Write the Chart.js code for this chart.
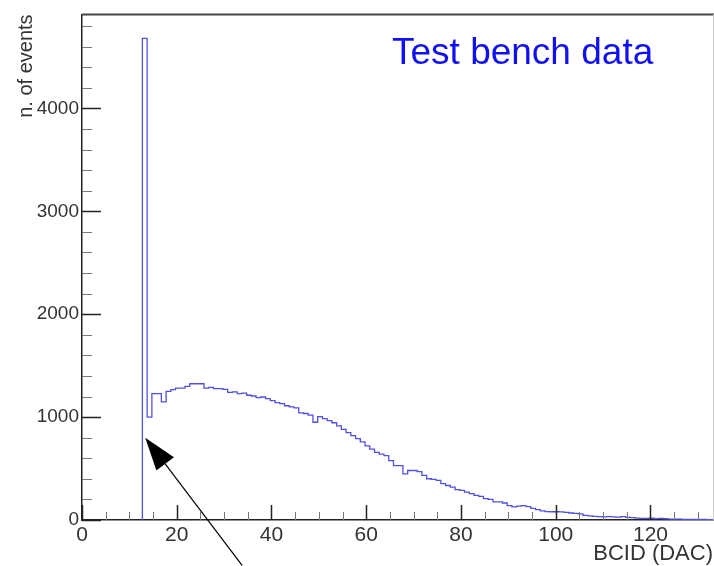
<!DOCTYPE html>
<html>
<head>
<meta charset="utf-8">
<script src="https://cdn.jsdelivr.net/npm/chart.js@4.4.1/dist/chart.umd.min.js"></script>
<style>
  html, body { margin: 0; padding: 0; background: #fff; }
</style>
</head>
<body>
<canvas id="bcidChart" width="714" height="566"></canvas>
<script>
// histogram: lower edge of first bin, bin width, counts per bin
const binStart = 12.75;
const binWidth = 1;
const binCounts = [
    4680, 1000, 1228, 1228, 1147, 1250, 1266, 1282, 1282, 1298,
    1324, 1324, 1324, 1282, 1288, 1276, 1276, 1270, 1240, 1245,
    1228, 1232, 1212, 1205, 1190, 1195, 1180, 1160, 1140, 1130,
    1110, 1100, 1090, 1040, 1035, 1020, 950, 1005, 985, 965,
    945, 915, 880, 850, 820, 790, 760, 721, 689, 657,
    640, 625, 577, 529, 529, 449, 481, 481, 470, 433,
    401, 395, 385, 353, 335, 320, 295, 288, 270, 256,
    240, 230, 208, 200, 176, 176, 165, 140, 128, 135,
    140, 130, 112, 100, 89, 82, 80, 80, 78, 75,
    68, 64, 60, 45, 41, 35, 32, 30, 33, 30,
    28, 32, 25, 24, 18, 16, 15, 17, 14, 16,
    12, 9, 8, 8, 7, 6, 7, 5, 5, 4, 4
];

const xTicks = [0, 20, 40, 60, 80, 100, 120];
const yTicks = [0, 1000, 2000, 3000, 4000];
const xRange = [0, 133.2];
const yRange = [0, 4913];

const xTitle = 'BCID (DAC)';
const yTitle = 'n. of events';
const labelText = 'Test bench data';

// step outline points (left edge of each bin + closing edge)
const stepPoints = [{ x: binStart, y: 0 }];
binCounts.forEach((c, i) => stepPoints.push({ x: binStart + i * binWidth, y: c }));
stepPoints.push({ x: binStart + binCounts.length * binWidth, y: binCounts[binCounts.length - 1] });

// frame, inward ROOT-style ticks, label and arrow
const rootStylePlugin = {
    id: 'rootStyle',
    afterDraw(chart) {
        const ctx = chart.ctx;
        const area = chart.chartArea;
        const xs = chart.scales.x;
        const ys = chart.scales.y;
        ctx.save();

        // top / right frame
        ctx.strokeStyle = '#444';
        ctx.lineWidth = 2;
        ctx.beginPath();
        ctx.moveTo(area.left, area.top);
        ctx.lineTo(area.right + 1, area.top);
        ctx.stroke();
        ctx.strokeStyle = '#ccc';
        ctx.lineWidth = 1;
        ctx.beginPath();
        ctx.moveTo(area.right + 0.5, area.top);
        ctx.lineTo(area.right + 0.5, area.bottom);
        ctx.stroke();

        // y ticks (major every 1000, minor every 200)
        for (let v = 0; v <= yRange[1]; v += 200) {
            const py = Math.round(ys.getPixelForValue(v)) + 0.5;
            const major = v % 1000 === 0;
            ctx.strokeStyle = major ? '#222' : '#777';
            ctx.lineWidth = major ? 1.5 : 1;
            ctx.beginPath();
            ctx.moveTo(area.left, py);
            ctx.lineTo(area.left + (major ? 19 : 10), py);
            ctx.stroke();
        }
        // x ticks (major every 20, minor every 5)
        for (let v = 0; v <= xRange[1]; v += 5) {
            const px = Math.round(xs.getPixelForValue(v)) + 0.5;
            const major = v % 20 === 0;
            ctx.strokeStyle = major ? '#222' : '#777';
            ctx.lineWidth = major ? 1.5 : 1;
            ctx.beginPath();
            ctx.moveTo(px, area.bottom);
            ctx.lineTo(px, area.bottom - (major ? 15 : 8));
            ctx.stroke();
        }

        // blue label
        ctx.fillStyle = '#1010f0';
        ctx.font = '37px "Liberation Sans", Arial, sans-serif';
        ctx.textAlign = 'left';
        ctx.textBaseline = 'alphabetic';
        ctx.fillText(labelText, 392, 64);

        // arrow pointing at the first bin
        const tipX = xs.getPixelForValue(13.35);
        const tipY = ys.getPixelForValue(800);
        const tailX = xs.getPixelForValue(33.8);
        const tailY = ys.getPixelForValue(-442);
        const ang = Math.atan2(tailY - tipY, tailX - tipX);
        const headLen = 33;
        const headHalf = 11;
        const bx = tipX + headLen * Math.cos(ang);
        const by = tipY + headLen * Math.sin(ang);
        ctx.strokeStyle = '#000';
        ctx.lineWidth = 1.2;
        ctx.beginPath();
        ctx.moveTo(bx, by);
        ctx.lineTo(tailX, tailY);
        ctx.stroke();
        ctx.fillStyle = '#000';
        ctx.beginPath();
        ctx.moveTo(tipX, tipY);
        ctx.lineTo(bx - headHalf * Math.sin(ang), by + headHalf * Math.cos(ang));
        ctx.lineTo(bx + headHalf * Math.sin(ang), by - headHalf * Math.cos(ang));
        ctx.closePath();
        ctx.fill();

        ctx.restore();
    }
};

const ctx = document.getElementById('bcidChart').getContext('2d');
const chart = new Chart(ctx, {
    type: 'line',
    data: {
        datasets: [{
            data: stepPoints,
            borderColor: 'rgb(80, 80, 225)',
            borderWidth: 1.3,
            stepped: true,
            pointRadius: 0,
            fill: false
        }]
    },
    options: {
        responsive: false,
        animation: false,
        layout: { padding: { top: 9, right: 1, left: 0, bottom: 0 } },
        plugins: {
            legend: { display: false },
            tooltip: { enabled: false }
        },
        scales: {
            x: {
                type: 'linear',
                min: xRange[0],
                max: xRange[1],
                afterFit: (scale) => { scale.height = 46; },
                afterBuildTicks: (scale) => { scale.ticks = xTicks.map(v => ({ value: v })); },
                grid: { display: false, drawTicks: false },
                border: { display: true, color: '#222', width: 1.5 },
                ticks: {
                    color: '#333',
                    padding: 3,
                    maxRotation: 0,
                    callback: (v) => String(v),
                    font: { family: '"Liberation Sans", Arial, sans-serif', size: 21 }
                },
                title: {
                    display: true,
                    text: xTitle,
                    align: 'end',
                    color: '#333',
                    padding: { top: 0, bottom: 1 },
                    font: { family: '"Liberation Sans", Arial, sans-serif', size: 22, lineHeight: 1 }
                }
            },
            y: {
                type: 'linear',
                min: yRange[0],
                max: yRange[1],
                afterFit: (scale) => { scale.width = 82; },
                afterBuildTicks: (scale) => { scale.ticks = yTicks.map(v => ({ value: v })); },
                grid: { display: false, drawTicks: false },
                border: { display: true, color: '#222', width: 1.5 },
                ticks: {
                    color: '#333',
                    padding: 3,
                    callback: (v) => String(v),
                    font: { family: '"Liberation Sans", Arial, sans-serif', size: 19 }
                },
                title: {
                    display: true,
                    text: yTitle,
                    align: 'end',
                    color: '#333',
                    padding: { top: 14, bottom: 0 },
                    font: { family: '"Liberation Sans", Arial, sans-serif', size: 20 }
                }
            }
        }
    },
    plugins: [rootStylePlugin]
});
</script>
</body>
</html>
